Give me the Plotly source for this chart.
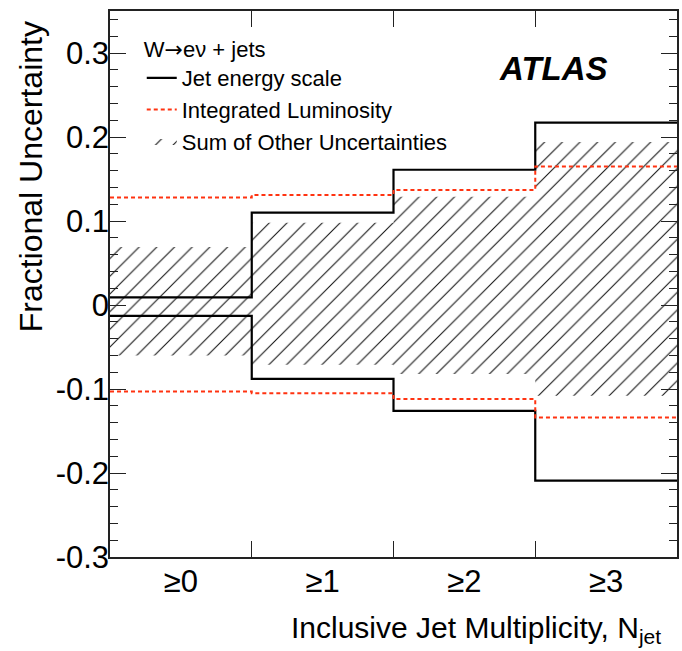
import plotly.graph_objects as go

# Bin edges and labels for the inclusive jet multiplicity
bin_edges = [0, 1, 2, 3, 4]
bin_labels = ["≥0", "≥1", "≥2", "≥3"]

# Fractional uncertainties per bin
jes_up = [0.009, 0.110, 0.161, 0.217]
jes_down = [-0.013, -0.088, -0.126, -0.209]
lumi_up = [0.128, 0.131, 0.137, 0.165]
lumi_down = [-0.103, -0.105, -0.112, -0.134]
other_up = [0.069, 0.098, 0.129, 0.194]
other_down = [-0.060, -0.071, -0.082, -0.108]

y_tick_vals = [-0.3, -0.2, -0.1, 0.0, 0.1, 0.2, 0.3]
y_tick_text = ["-0.3", "-0.2", "-0.1", "0", "0.1", "0.2", "0.3"]

FONT = "Liberation Sans, Arial, Helvetica, sans-serif"


def step_y(vals):
    return list(vals) + [vals[-1]]


def band_polygon(lo, hi):
    xs, ys = [], []
    for i, v in enumerate(hi):
        xs += [bin_edges[i], bin_edges[i + 1]]
        ys += [v, v]
    for i in reversed(range(len(lo))):
        xs += [bin_edges[i + 1], bin_edges[i]]
        ys += [lo[i], lo[i]]
    xs.append(xs[0])
    ys.append(ys[0])
    return xs, ys


fig = go.Figure()

# Hatched band: sum of the other uncertainties
bx, by = band_polygon(other_down, other_up)
fig.add_trace(go.Scatter(
    x=bx, y=by, mode="lines", fill="toself",
    line=dict(width=0, color="rgba(0,0,0,0)"),
    fillcolor="rgba(0,0,0,0)",
    fillpattern=dict(shape="/", size=12.5, solidity=0.085,
                     fgcolor="#111111", fgopacity=1,
                     bgcolor="rgba(0,0,0,0)"),
    name="Sum of Other Uncertainties", legendrank=3,
    hoverinfo="skip",
))

# Jet energy scale (up / down)
fig.add_trace(go.Scatter(
    x=bin_edges, y=step_y(jes_up), mode="lines", line_shape="hv",
    line=dict(color="black", width=2.2),
    name="Jet energy scale", legendrank=1,
))
fig.add_trace(go.Scatter(
    x=bin_edges, y=step_y(jes_down), mode="lines", line_shape="hv",
    line=dict(color="black", width=2.2),
    showlegend=False,
))

# Integrated luminosity (up / down)
fig.add_trace(go.Scatter(
    x=bin_edges, y=step_y(lumi_up), mode="lines", line_shape="hv",
    line=dict(color="#ff3311", width=2, dash="4px,3px"),
    name="Integrated Luminosity", legendrank=2,
))
fig.add_trace(go.Scatter(
    x=bin_edges, y=step_y(lumi_down), mode="lines", line_shape="hv",
    line=dict(color="#ff3311", width=2, dash="4px,3px"),
    showlegend=False,
))

fig.update_layout(
    width=682, height=651,
    margin=dict(l=110, r=3, t=11, b=94),
    paper_bgcolor="white", plot_bgcolor="white",
    font=dict(family=FONT, color="black", size=30),
    showlegend=True,
    legend=dict(
        x=0.056, y=0.968, xanchor="left", yanchor="top",
        bgcolor="rgba(0,0,0,0)", borderwidth=0,
        font=dict(size=22, family=FONT),
        title=dict(
            text='W<span style="font-family:DejaVu Sans">→</span>eν + jets',
            font=dict(size=22, family=FONT)),
        traceorder="normal",
    ),
    xaxis=dict(
        range=[0, 4], showgrid=False, zeroline=False,
        showline=True, linecolor="#222", linewidth=1.5, mirror="ticks",
        tickmode="array", tickvals=[0.5, 1.5, 2.5, 3.5], ticktext=bin_labels,
        ticks="", tickfont=dict(size=31),
        ticklabelstandoff=-4,
        minor=dict(tickmode="array", tickvals=bin_edges[1:-1],
                   ticks="inside", ticklen=16, tickcolor="#222", tickwidth=1),
    ),
    yaxis=dict(
        range=[-0.3, 0.35], showgrid=False, zeroline=False,
        showline=True, linecolor="#222", linewidth=1.5, mirror="ticks",
        tickmode="array", tickvals=y_tick_vals, ticktext=y_tick_text,
        ticks="inside", ticklen=16, tickcolor="#222", tickwidth=1,
        tickfont=dict(size=31), ticklabelstandoff=-7,
        minor=dict(dtick=0.02, tick0=0, ticks="inside", ticklen=8,
                   tickcolor="#222", tickwidth=1),
    ),
)

# Axis titles, ROOT-style aligned to the axis ends
fig.add_annotation(
    text="Inclusive Jet Multiplicity, N<sub>jet</sub>",
    xref="paper", yref="paper", x=0.975, y=-0.133,
    xanchor="right", yanchor="middle", showarrow=False,
    font=dict(size=30, family=FONT),
)
fig.add_annotation(
    text="Fractional Uncertainty",
    xref="paper", yref="paper", x=-0.14, y=0.985,
    xanchor="center", yanchor="top", textangle=-90, showarrow=False,
    font=dict(size=32, family=FONT),
)
fig.add_annotation(
    text="<b><i>ATLAS</i></b>",
    xref="paper", yref="paper", x=0.782, y=0.895,
    xanchor="center", yanchor="middle", showarrow=False,
    font=dict(size=33, family=FONT),
)

fig.write_html("out.html")
